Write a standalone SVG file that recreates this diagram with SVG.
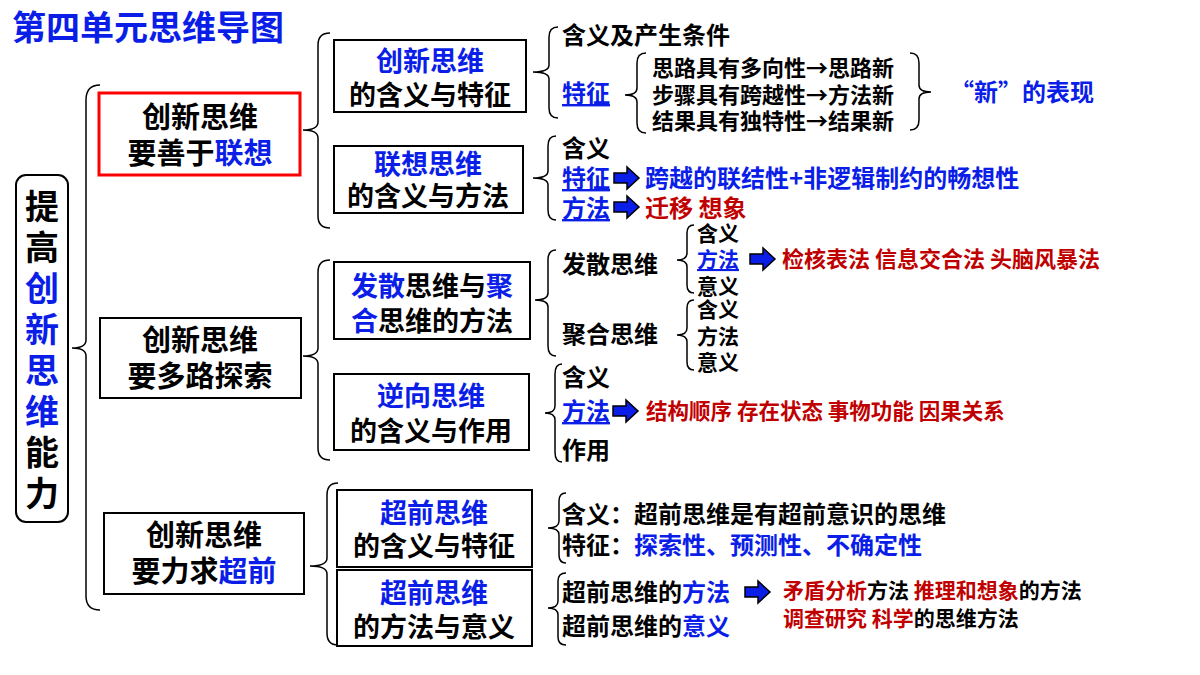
<svg xmlns="http://www.w3.org/2000/svg" xmlns:xlink="http://www.w3.org/1999/xlink" width="1200" height="675" viewBox="0 0 1200 675">
<style>
text{font-family:"Noto Sans CJK SC","Liberation Sans",sans-serif;font-weight:bold;fill:#000}
.b{fill:#0a1ee8}.r{fill:#c00000}
.box{fill:#fff;stroke:#000;stroke-width:2}
.br{fill:none;stroke:#000;stroke-width:1.5}
.u{text-decoration:underline}
.c{text-anchor:middle}
</style>
<defs><path id="arr" d="M0,-5H13V-11L25,0L13,11V5H0Z" fill="#0a1ee8"/></defs>
<rect width="1200" height="675" fill="#fff"/>
<text x="12" y="40" font-size="34" class="b">第四单元思维导图</text>
<g id="root">
<rect x="16" y="175" width="52" height="347" rx="10" class="box"/>
<g font-size="34" class="c">
<text x="42" y="219">提</text><text x="42" y="260">高</text>
<text x="42" y="301" class="b">创</text><text x="42" y="342" class="b">新</text><text x="42" y="383" class="b">思</text><text x="42" y="424" class="b">维</text>
<text x="42" y="465">能</text><text x="42" y="506">力</text></g>
</g>
<g id="connectors" class="br">
<path d="M100,85Q86,85 86,100V340Q86,348 72,348Q86,348 86,356V596Q86,610 100,610"/>
<path d="M330,33Q318,33 318,45V122Q318,130 303,130Q318,130 318,138V216Q318,228 330,228"/>
<path d="M330,260Q318,260 318,272V348Q318,356 303,356Q318,356 318,364V448Q318,460 330,460"/>
<path d="M338,483Q327,483 327,495V558Q327,566 310,566Q327,566 327,574V633Q327,645 338,645"/>
<path d="M558,27Q549,27 549,37V65Q549,72 533,72Q549,72 549,79V108Q549,118 558,118"/>
<path d="M646,53Q637,53 637,63V88Q637,95 625,95Q637,95 637,102V123Q637,133 646,133"/>
<path d="M910,53Q919,53 919,63V85Q919,92 931,92Q919,92 919,99V120Q919,130 910,130"/>
<path d="M556,136Q548,136 548,146V171Q548,178 533,178Q548,178 548,185V210Q548,220 556,220"/>
<path d="M556,250Q548,250 548,260V293Q548,300 535,300Q548,300 548,307V346Q548,356 556,356"/>
<path d="M694,225Q687,225 687,233V253Q687,260 677,260Q687,260 687,267V285Q687,293 694,293"/>
<path d="M694,300Q687,300 687,308V328Q687,335 677,335Q687,335 687,342V362Q687,370 694,370"/>
<path d="M562,364Q555,364 555,374V406Q555,413 545,413Q555,413 555,420V452Q555,462 562,462"/>
<path d="M566,493Q559,493 559,501V521Q559,528 548,528Q559,528 559,535V555Q559,563 566,563"/>
<path d="M566,573Q558,573 558,581V601Q558,608 548,608Q558,608 558,615V637Q558,645 566,645"/>
<use xlink:href="#arr" x="614" y="178"/><use xlink:href="#arr" x="614" y="207"/>
<use xlink:href="#arr" x="750" y="259"/><use xlink:href="#arr" x="613" y="411"/>
<use xlink:href="#arr" x="745" y="592"/>
</g>
<g id="n1"><rect x="99" y="93" width="201" height="82" fill="#fff" stroke="#f00" stroke-width="3"/>
<text x="200" y="128" font-size="29" class="c">创新思维</text><text x="200" y="164" font-size="29" class="c">要善于<tspan class="b">联想</tspan></text></g>
<g id="n2"><rect x="100" y="318" width="201" height="80" class="box"/>
<text x="200" y="351" font-size="29" class="c">创新思维</text><text x="200" y="387" font-size="29" class="c">要多路探索</text></g>
<g id="n3"><rect x="104" y="513" width="200" height="81" class="box"/>
<text x="204" y="546" font-size="29" class="c">创新思维</text><text x="204" y="582" font-size="29" class="c">要力求<tspan class="b">超前</tspan></text></g>
<g font-size="27" class="c">
<g id="a1"><rect x="334" y="40" width="192" height="72" class="box"/><text x="430" y="71" class="b">创新思维</text><text x="430" y="105">的含义与特征</text></g>
<g id="a2"><rect x="334" y="146" width="189" height="67" class="box"/><text x="428" y="174" class="b">联想思维</text><text x="428" y="206">的含义与方法</text></g>
<g id="b1"><rect x="334" y="262" width="196" height="77" class="box"/><text x="432" y="296"><tspan class="b">发散</tspan>思维与<tspan class="b">聚</tspan></text><text x="432" y="331"><tspan class="b">合</tspan>思维的方法</text></g>
<g id="b2"><rect x="334" y="374" width="195" height="76" class="box"/><text x="431" y="406" class="b">逆向思维</text><text x="431" y="441">的含义与作用</text></g>
<g id="c1"><rect x="337" y="490" width="195" height="77" class="box"/><text x="434" y="523" class="b">超前思维</text><text x="434" y="556">的含义与特征</text></g>
<g id="c2"><rect x="337" y="570" width="195" height="76" class="box"/><text x="434" y="603" class="b">超前思维</text><text x="434" y="637">的方法与意义</text></g>
</g>
<g id="leaves" font-size="24">
<text x="562" y="44">含义及产生条件</text>
<text x="562" y="102" class="b u">特征</text>
<g font-size="22"><text x="652" y="76">思路具有多向性→思路新</text><text x="652" y="103">步骤具有跨越性→方法新</text><text x="652" y="129">结果具有独特性→结果新</text></g>
<text x="950" y="101" class="b">“新”的表现</text>
<text x="562" y="157">含义</text>
<text x="562" y="187" class="b u">特征</text><text x="645" y="187" class="b">跨越的联结性+非逻辑制约的畅想性</text>
<text x="562" y="217" class="b u">方法</text><text x="645" y="217" class="r">迁移 想象</text>
<text x="562" y="273">发散思维</text><text x="562" y="343">聚合思维</text>
<g font-size="21"><text x="697" y="241">含义</text><text x="697" y="267" class="b u">方法</text><text x="697" y="294">意义</text>
<text x="782" y="267" font-size="22" class="r">检核表法 信息交合法 头脑风暴法</text>
<text x="697" y="317">含义</text><text x="697" y="344">方法</text><text x="697" y="370">意义</text></g>
<text x="562" y="386">含义</text>
<text x="562" y="420" class="b u">方法</text><text x="646" y="419" font-size="21.5" class="r">结构顺序 存在状态 事物功能 因果关系</text>
<text x="562" y="459">作用</text>
<text x="562" y="523">含义：超前思维是有超前意识的思维</text>
<text x="562" y="554">特征：<tspan class="b">探索性、预测性、不确定性</tspan></text>
<text x="562" y="601">超前思维的<tspan class="b">方法</tspan></text>
<text x="562" y="635">超前思维的<tspan class="b">意义</tspan></text>
<text x="783" y="598" font-size="21"><tspan class="r">矛盾分析</tspan>方法 <tspan class="r">推理和想象</tspan>的方法</text>
<text x="783" y="626" font-size="21"><tspan class="r">调查研究 科学</tspan>的思维方法</text>
</g>
</svg>
